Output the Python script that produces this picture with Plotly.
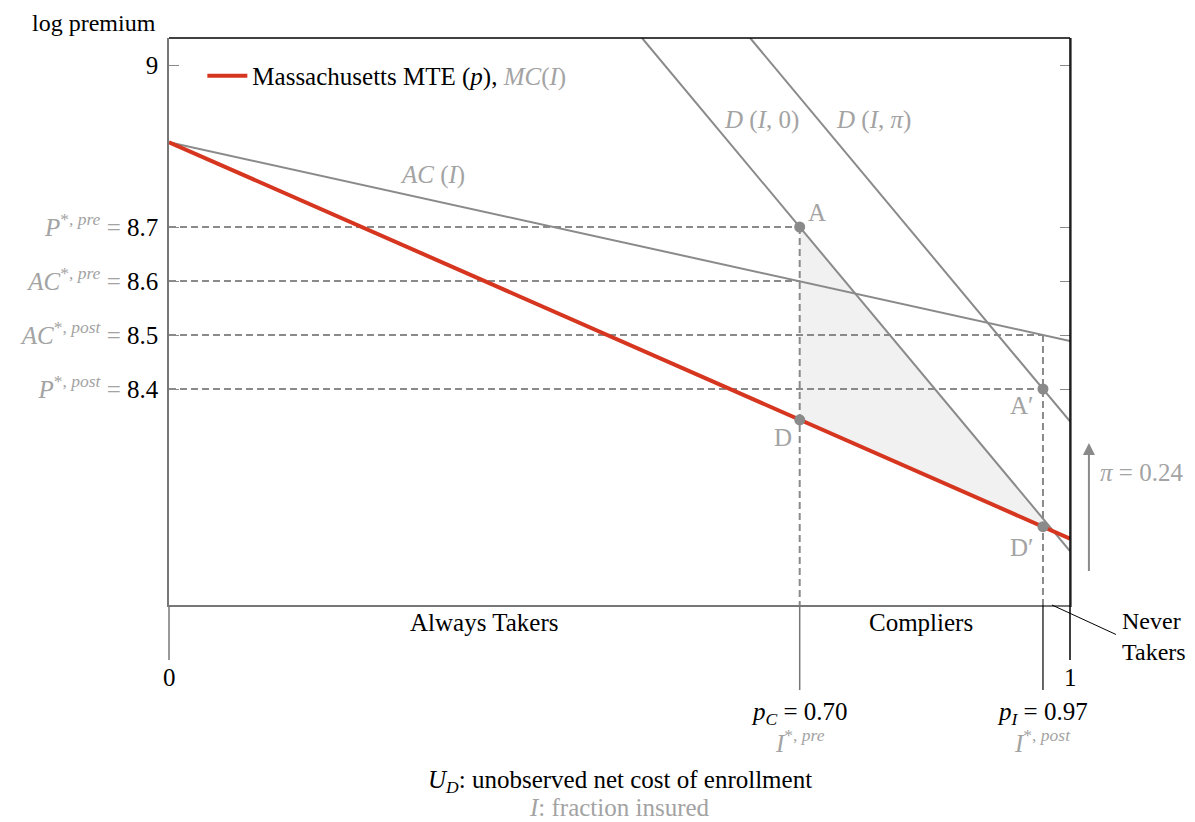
import plotly.graph_objects as go

# ---------------- data ----------------
mte_x = [0.0, 1.0]
mte_y = [8.857, 8.123]
ac_x = [0.0, 1.0]
ac_y = [8.857, 8.489]
d0_x = [0.525, 1.0]
d0_y = [9.05, 8.10]
dpi_x = [0.645, 1.0]
dpi_y = [9.05, 8.34]

pts_x = [0.70, 0.70, 0.97, 0.97]
pts_y = [8.70, 8.343, 8.40, 8.145]
pts_lab = ["A", "D", "A′", "D′"]

tri_x = [0.70, 0.70, 0.981, 0.70]
tri_y = [8.70, 8.343, 8.137, 8.70]

p_C = 0.70
p_I = 0.97
P_pre, AC_pre, AC_post, P_post = 8.7, 8.6, 8.5, 8.4
pi_shift = 0.24

ytick_vals = [9, 8.7, 8.6, 8.5, 8.4]
Y_RANGE = [8.0, 9.05]

GRAY = "#8a8a8a"
TGRAY = "#a3a3a3"
RED = "#d6361f"
FONT = "Liberation Serif"
FS = 25

# page body has an 8px margin; compensate so the picture sits where intended
OFF = 8
W, H = 1195 - OFF, 822 - OFF
L_M, T_M = 166 - OFF, 38 - OFF
PW, PH = 904, 567
R_M, B_M = W - L_M - PW, H - T_M - PH
px_per_unit = PH / (Y_RANGE[1] - Y_RANGE[0])

fig = go.Figure()

# shaded triangle
fig.add_trace(go.Scatter(x=tri_x, y=tri_y, mode="lines", fill="toself",
                         fillcolor="#f1f1f1", line=dict(width=0),
                         hoverinfo="skip", showlegend=False))

# dashed guides
dash = dict(color=GRAY, width=2, dash="7px,4px")
for xx, yy in [([0, p_C], [P_pre, P_pre]),
               ([0, p_C], [AC_pre, AC_pre]),
               ([0, p_I], [AC_post, AC_post]),
               ([0, p_I], [P_post, P_post]),
               ([p_C, p_C], [P_pre, 8.0]),
               ([p_I, p_I], [AC_post, 8.0])]:
    fig.add_trace(go.Scatter(x=xx, y=yy, mode="lines", line=dash,
                             hoverinfo="skip", showlegend=False))

# gray curves
for xx, yy in [(ac_x, ac_y), (d0_x, d0_y), (dpi_x, dpi_y)]:
    fig.add_trace(go.Scatter(x=xx, y=yy, mode="lines",
                             line=dict(color=GRAY, width=2),
                             hoverinfo="skip", showlegend=False))

# MTE line
fig.add_trace(go.Scatter(
    x=mte_x, y=mte_y, mode="lines", line=dict(color=RED, width=4),
    name="Massachusetts MTE (<i>p</i>), <span style='color:%s'><i>MC</i>(<i>I</i>)</span>" % TGRAY,
    showlegend=True))

# points
fig.add_trace(go.Scatter(x=pts_x, y=pts_y, mode="markers",
                         marker=dict(color=GRAY, size=11),
                         hoverinfo="skip", showlegend=False))

ann = []
def A(text, x, y, xref="x", yref="y", color=TGRAY, size=FS, xanchor="center", yanchor="middle", align="center"):
    ann.append(dict(text=text, x=x, y=y, xref=xref, yref=yref, showarrow=False,
                    font=dict(family=FONT, size=size, color=color),
                    xanchor=xanchor, yanchor=yanchor, align=align))

# curve labels
A("<i>AC</i> (<i>I</i>)", 0.292, 8.797)
A("<i>D</i> (<i>I</i>, 0)", 0.658, 8.898)
A("<i>D</i> (<i>I</i>, <i>π</i>)", 0.782, 8.898)
# point labels
A(pts_lab[0], 0.719, 8.727)
A(pts_lab[1], 0.682, 8.311)
A(pts_lab[2], 0.947, 8.370)
A(pts_lab[3], 0.947, 8.107)

# y-axis title
A("log premium", -0.0835, 1.0265, xref="paper", yref="paper", color="black", size=24)

# pi arrow
ann.append(dict(text="", x=1.021, y=8.06 + pi_shift, xref="paper", yref="y",
                ax=0, ay=pi_shift * px_per_unit, axref="pixel", ayref="pixel",
                showarrow=True, arrowhead=2, arrowsize=1.2, arrowwidth=2,
                arrowcolor=GRAY))
A("<i>π</i> = 0.24", 1.079, 8.246, xref="paper", yref="y")

# below-axis labels
A("Always Takers", p_C / 2, -0.030, xref="paper", yref="paper", color="black")
A("Compliers", (p_C + p_I) / 2, -0.030, xref="paper", yref="paper", color="black")
A("Never<br>Takers", 1.056, -0.056, xref="paper", yref="paper", color="black",
  xanchor="left", align="left", size=24)
A("0", 0, -0.127, xref="paper", yref="paper", color="black")
A("1", 1, -0.127, xref="paper", yref="paper", color="black")
A("<i>p</i><sub><i>C</i></sub> = %.2f" % p_C, p_C, -0.192, xref="paper", yref="paper", color="black")
A("<i>I</i><sup>*, <i>pre</i></sup>", p_C, -0.240, xref="paper", yref="paper")
A("<i>p</i><sub><i>I</i></sub> = %.2f" % p_I, p_I, -0.192, xref="paper", yref="paper", color="black")
A("<i>I</i><sup>*, <i>post</i></sup>", p_I, -0.240, xref="paper", yref="paper")
A("<i>U</i><sub><i>D</i></sub>: unobserved net cost of enrollment", 0.5005, -0.312,
  xref="paper", yref="paper", color="black")
A("<i>I</i>: fraction insured", 0.5005, -0.358, xref="paper", yref="paper")

shapes = []
def L(x0, y0, x1, y1, color, width):
    shapes.append(dict(type="line", xref="paper", yref="paper", x0=x0, y0=y0,
                       x1=x1, y1=y1, line=dict(color=color, width=width), layer="above"))

L(0, 1, 1, 1, "black", 1.5)            # top frame
L(1, 1, 1, -0.097, "black", 1.5)       # right frame
L(0, 0, 0, -0.097, "#777777", 1.5)     # left extension
L(p_C, 0, p_C, -0.150, "#777777", 1.5)
L(p_I, 0, p_I, -0.150, "black", 1.2)
L(0.980, 0, 1.051, -0.052, "black", 1)  # pointer to Never Takers

def gray_lab(txt, val):
    return "<span style='color:%s'>%s =</span> %s" % (TGRAY, txt, val)

ytick_text = [
    "9",
    gray_lab("<i>P</i><sup>*, <i>pre</i></sup>", "8.7"),
    gray_lab("<i>AC</i><sup>*, <i>pre</i></sup>", "8.6"),
    gray_lab("<i>AC</i><sup>*, <i>post</i></sup>", "8.5"),
    gray_lab("<i>P</i><sup>*, <i>post</i></sup>", "8.4"),
]

fig.update_layout(
    width=W, height=H,
    margin=dict(l=L_M, r=R_M, t=T_M, b=B_M),
    plot_bgcolor="white", paper_bgcolor="white",
    font=dict(family=FONT, size=FS, color="black"),
    showlegend=True,
    legend=dict(x=0.037, y=0.933, xanchor="left", yanchor="middle",
                bgcolor="rgba(0,0,0,0)", font=dict(family=FONT, size=FS),
                itemwidth=40),
    xaxis=dict(range=[0, 1], showgrid=False, zeroline=False, showticklabels=False,
               ticks="", showline=True, linecolor="#777777", linewidth=1.5),
    yaxis=dict(range=Y_RANGE, showgrid=False, zeroline=False,
               tickvals=ytick_vals, ticktext=ytick_text,
               ticks="inside", ticklen=10, tickcolor=GRAY, tickwidth=1.2,
               mirror="ticks", showline=True, linecolor="#777777", linewidth=1.5,
               ticklabelstandoff=4,
               tickfont=dict(family=FONT, size=FS, color="black")),
    annotations=ann,
    shapes=shapes,
)

fig.write_html("out.html")
